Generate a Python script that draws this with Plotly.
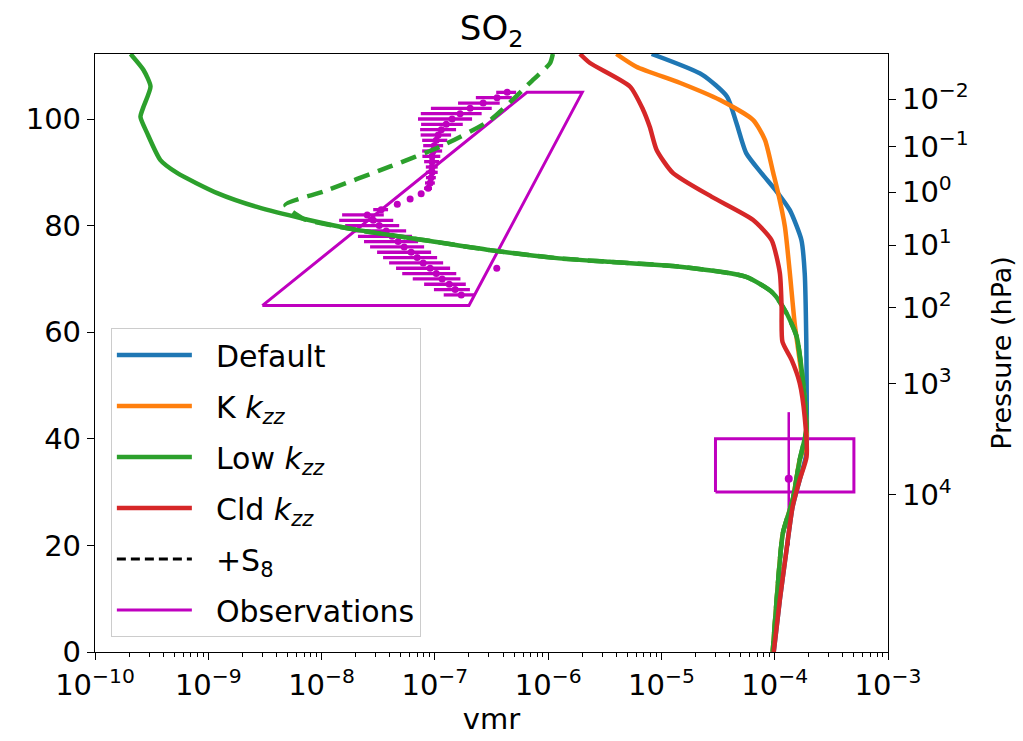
import plotly.graph_objects as go

MAG = '#bf00bf'
BLUE = '#1f77b4'
ORANGE = '#ff7f0e'
GREEN = '#2ca02c'
RED = '#d62728'
FONT = 'DejaVu Sans'

# ---------------- model profiles (altitude km, SO2 vmr) ----------------
default_alt = [112.2, 108.3, 104.2, 99.2, 93.6, 89.9, 86.4, 82.9, 77.3, 71.1, 58.5, 44.0, 39.8, 36.6, 32.3, 27.3, 19.1, 9.8, 0.0]
default_vmr = [8.2e-6, 2.3e-5, 3.8e-5, 4.6e-5, 5.6e-5, 7.6e-5, 1.04e-4, 1.36e-4, 1.72e-4, 1.84e-4, 1.90e-4, 1.92e-4, 1.92e-4, 1.88e-4, 1.66e-4, 1.44e-4, 1.27e-4, 1.11e-4, 9.8e-5]

kzz_alt = [112.2, 109.8, 106.8, 103.6, 99.8, 96.1, 89.9, 86.2, 79.8, 71.1, 61.7, 47.3, 39.8, 36.0, 28.5, 22.3, 9.8, 0.0]
kzz_vmr = [4.0e-6, 6.0e-6, 1.45e-5, 3.26e-5, 6.46e-5, 8.2e-5, 9.7e-5, 1.07e-4, 1.23e-4, 1.36e-4, 1.50e-4, 1.84e-4, 1.90e-4, 1.66e-4, 1.44e-4, 1.18e-4, 1.04e-4, 9.6e-5]

low_alt = [112.2, 109.2, 106.1, 102.3, 100.4, 97.4, 92.3, 89.9, 86.1, 83.5, 81.3, 79.2, 77.3, 75.4, 73.9, 73.2, 72.3, 70.4, 67.4, 63.6, 59.2, 50.5, 41.7, 36.0, 28.5, 22.3, 9.8, 0.0]
low_vmr = [2.06e-10, 2.68e-10, 3.09e-10, 2.68e-10, 2.52e-10, 2.88e-10, 3.78e-10, 5.3e-10, 1.2e-9, 2.69e-9, 6.9e-9, 2.05e-8, 7.9e-8, 3.07e-7, 1.19e-6, 3.5e-6, 1.46e-5, 5.6e-5, 9.6e-5, 1.27e-4, 1.56e-4, 1.78e-4, 1.90e-4, 1.66e-4, 1.44e-4, 1.18e-4, 1.04e-4, 9.6e-5]

low_s8_alt = [112.2, 110.5, 106.8, 99.8, 94.8, 91.1, 86.4, 83.9] + low_alt[10:]
low_s8_vmr = [1.10e-6, 1.04e-6, 6.9e-7, 3.08e-7, 1.11e-7, 4.04e-8, 1.04e-8, 4.8e-9] + low_vmr[10:]

cld_alt = [112.2, 110.5, 106.1, 101.8, 98.5, 94.2, 89.9, 85.3, 81.1, 77.3, 71.1, 64.8, 58.2, 54.8, 50.5, 44.1, 36.6, 32.3, 27.3, 19.1, 9.8, 0.0]
cld_vmr = [1.91e-6, 2.34e-6, 5.27e-6, 6.87e-6, 7.9e-6, 9.07e-6, 1.26e-5, 2.84e-5, 6.41e-5, 9.37e-5, 1.11e-4, 1.15e-4, 1.17e-4, 1.41e-4, 1.66e-4, 1.84e-4, 1.91e-4, 1.66e-4, 1.44e-4, 1.27e-4, 1.11e-4, 9.8e-5]

# ---------------- observations ----------------
obs_region_vmr = [3.0e-9, 2.0e-7, 2.0e-6, 6.5e-7, 3.0e-9]
obs_region_alt = [65, 65, 105, 105, 65]

obs_box_vmr = [3.0e-5, 5.0e-4, 5.0e-4, 3.0e-5, 3.0e-5]
obs_box_alt = [30, 30, 40, 40, 30]

obs_point_vmr = [1.33e-4]
obs_point_alt = [32.5]
obs_point_alt_err = [12.5]

obs_prof_alt = list(range(67, 106))
obs_prof_vmr = [1.71e-7, 1.51e-7, 1.34e-7, 1.16e-7, 1.03e-7, 9.09e-8, 7.89e-8, 6.98e-8, 6.18e-8, 5.36e-8,
                4.74e-8, 4.19e-8, 3.72e-8, 3.23e-8, 2.86e-8, 2.53e-8, 3.36e-8, 4.66e-8, 6.05e-8, 7.57e-8,
                8.73e-8, 9.09e-8, 9.27e-8, 9.46e-8, 9.46e-8, 9.46e-8, 9.46e-8, 9.66e-8, 9.86e-8, 1.03e-7,
                1.07e-7, 1.14e-7, 1.26e-7, 1.42e-7, 1.67e-7, 2.05e-7, 2.67e-7, 3.54e-7, 4.35e-7]
obs_prof_err_frac = [0.3, 0.35, 0.4, 0.45, 0.5, 0.5, 0.5, 0.5, 0.5, 0.5,
                     0.5, 0.5, 0.5, 0.5, 0.5, 0.4, 0.15, 0.05, 0.05, 0.05,
                     0.08, 0.1, 0.1, 0.12, 0.12, 0.15, 0.18, 0.2, 0.2, 0.25,
                     0.3, 0.35, 0.4, 0.5, 0.55, 0.55, 0.4, 0.35, 0.2]
obs_extra_vmr = [3.52e-7]
obs_extra_alt = [72.0]

# ---------------- axes ticks ----------------
x_tick_exp = [-10, -9, -8, -7, -6, -5, -4, -3]
y_ticks = [0, 20, 40, 60, 80, 100]
p_tick_alt = [103.7, 94.8, 86.3, 76.3, 64.6, 50.3, 29.5]
p_tick_exp = [-2, -1, 0, 1, 2, 3, 4]

def sup(e):
    return '10<sup>' + str(e).replace('-', '\u2212') + '</sup>'

PAD = '\u00a0\u00a0'

fig = go.Figure()

# observations (drawn first)
fig.add_trace(go.Scatter(x=obs_region_vmr, y=obs_region_alt, mode='lines',
                         line=dict(color=MAG, width=3), name=PAD + 'Observations',
                         legendgroup='g6', legendrank=6))
fig.add_trace(go.Scatter(x=obs_box_vmr, y=obs_box_alt, mode='lines',
                         line=dict(color=MAG, width=3), showlegend=False))
fig.add_trace(go.Scatter(x=obs_point_vmr, y=obs_point_alt, mode='markers',
                         marker=dict(color=MAG, size=8),
                         error_y=dict(type='data', array=obs_point_alt_err, color=MAG, thickness=2.5, width=0),
                         showlegend=False))
err = [v * f for v, f in zip(obs_prof_vmr, obs_prof_err_frac)]
fig.add_trace(go.Scatter(x=obs_prof_vmr, y=obs_prof_alt, mode='markers',
                         marker=dict(color=MAG, size=7),
                         error_x=dict(type='data', array=err, arrayminus=err, symmetric=False,
                                      color=MAG, thickness=3.3, width=0),
                         showlegend=False))
fig.add_trace(go.Scatter(x=obs_extra_vmr, y=obs_extra_alt, mode='markers',
                         marker=dict(color=MAG, size=7), showlegend=False))

LW = 4.5
fig.add_trace(go.Scatter(x=default_vmr, y=default_alt, mode='lines', name=PAD + 'Default',
                         line=dict(color=BLUE, width=LW, shape='spline', smoothing=0.6),
                         legendgroup='g1', legendrank=1))
fig.add_trace(go.Scatter(x=kzz_vmr, y=kzz_alt, mode='lines', name=PAD + 'K <i>k</i><sub><i>zz</i></sub>',
                         line=dict(color=ORANGE, width=LW, shape='spline', smoothing=0.6),
                         legendgroup='g2', legendrank=2))
fig.add_trace(go.Scatter(x=low_vmr, y=low_alt, mode='lines', name=PAD + 'Low <i>k</i><sub><i>zz</i></sub>',
                         line=dict(color=GREEN, width=LW, shape='spline', smoothing=0.6),
                         legendgroup='g3', legendrank=3))
fig.add_trace(go.Scatter(x=low_s8_vmr, y=low_s8_alt, mode='lines', showlegend=False,
                         line=dict(color=GREEN, width=LW, dash='16px,9px', shape='spline', smoothing=0.6)))
fig.add_trace(go.Scatter(x=cld_vmr, y=cld_alt, mode='lines', name=PAD + 'Cld <i>k</i><sub><i>zz</i></sub>',
                         line=dict(color=RED, width=LW, shape='spline', smoothing=0.6),
                         legendgroup='g4', legendrank=4))
fig.add_trace(go.Scatter(x=[None], y=[None], mode='lines', name=PAD + '+S<sub>8</sub>',
                         line=dict(color='black', width=3, dash='9px,5px'),
                         legendgroup='g5', legendrank=5))
# invisible trace to activate the pressure axis
fig.add_trace(go.Scatter(x=[1e-10], y=[0], yaxis='y2', mode='markers',
                         marker=dict(opacity=0), showlegend=False, hoverinfo='skip'))

axis_common = dict(showline=True, linecolor='black', linewidth=1.3, ticks='outside',
                   ticklen=7, tickwidth=1.3, tickcolor='black', showgrid=False, zeroline=False,
                   tickfont=dict(family=FONT, size=29, color='black'))

minor_vals = [k * 10.0 ** e for e in range(-10, -3) for k in range(2, 10)]

fig.update_layout(
    width=1023, height=741,
    margin=dict(l=95, r=135, t=54, b=89),
    paper_bgcolor='white', plot_bgcolor='white',
    font=dict(family=FONT, size=29, color='black'),
    title=dict(text='SO<sub>2</sub>', x=0.4805, xanchor='center', y=0.962, yref='container',
               yanchor='middle', font=dict(family=FONT, size=34, color='black')),
    xaxis=dict(type='log', range=[-10, -3], mirror=True,
               tickvals=[10.0 ** e for e in x_tick_exp], ticktext=[sup(e) for e in x_tick_exp],
               minor=dict(tickvals=minor_vals, ticks='outside', ticklen=4, tickwidth=1, tickcolor='black'),
               title=dict(text='vmr', standoff=4, font=dict(family=FONT, size=29)),
               **axis_common),
    yaxis=dict(range=[0, 112.2], mirror=True, tickvals=y_ticks, ticktext=[str(v) for v in y_ticks],
               **axis_common),
    yaxis2=dict(range=[0, 112.2], overlaying='y', side='right', anchor='x',
                tickvals=p_tick_alt, ticktext=[sup(e) for e in p_tick_exp],
                title=dict(text='Pressure (hPa)', standoff=24, font=dict(family=FONT, size=27)),
                **axis_common),
    legend=dict(x=0.02, y=0.025, xanchor='left', yanchor='bottom',
                bgcolor='rgba(255,255,255,0.8)', bordercolor='#cccccc', borderwidth=1,
                font=dict(family=FONT, size=30, color='black'), itemwidth=75,
                tracegroupgap=9, traceorder='grouped'),
    showlegend=True,
)

fig.write_html('out.html')
